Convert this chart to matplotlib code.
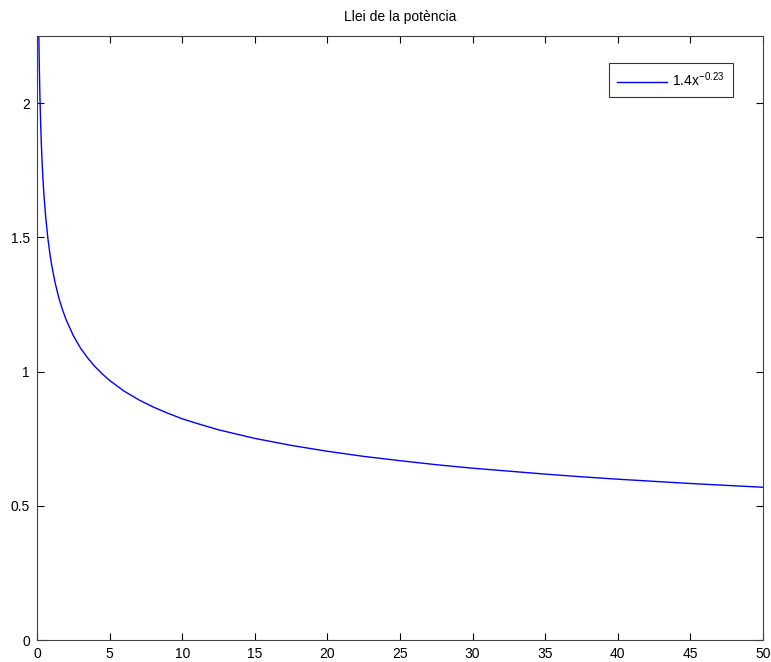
import matplotlib
matplotlib.use("Agg")
import matplotlib.pyplot as plt

# Values
x_vals = [0.1, 0.13, 0.16, 0.2, 0.25, 0.3, 0.35, 0.4, 0.45, 0.5, 0.6, 0.75, 0.9, 1, 1.25, 1.5,
          1.75, 2, 2.5, 3, 3.5, 4, 4.5, 5, 6, 7, 8, 9, 10, 11, 12.5, 15, 17.5, 20, 22.5,
          25, 27.5, 30, 32.5, 35, 37.5, 40, 42.5, 45, 47.5, 50]
y_vals = [2.377, 2.238, 2.134, 2.027, 1.926, 1.847, 1.782, 1.728, 1.682, 1.642, 1.575,
          1.496, 1.434, 1.400, 1.330, 1.275, 1.231, 1.194, 1.134, 1.087, 1.050, 1.018,
          0.991, 0.967, 0.927, 0.895, 0.868, 0.845, 0.824, 0.807, 0.783, 0.751, 0.725,
          0.703, 0.684, 0.668, 0.653, 0.640, 0.629, 0.618, 0.608, 0.599, 0.591, 0.583,
          0.576, 0.569]
x_ticks = [0, 5, 10, 15, 20, 25, 30, 35, 40, 45, 50]
y_ticks = [0, 0.5, 1, 1.5, 2]
y_tick_labels = ["0", "0.5", "1", "1.5", "2"]
title = "Llei de la potència"
legend_label = r"1.4x$^{\mathregular{-0.23}}$"

plt.rcParams['font.family'] = ['Liberation Sans', 'DejaVu Sans']
plt.rcParams['mathtext.default'] = 'regular'

fig = plt.figure(figsize=(7.71, 6.62), dpi=100)
ax = fig.add_axes([37/771, 22/662, (763-37)/771, (640-36)/662])
ax.plot(x_vals, y_vals, color='#0000ff', linewidth=1.0, label=legend_label)
ax.set_xlim(0, 50)
ax.set_ylim(0, 2.25)
ax.set_xticks(x_ticks)
ax.set_yticks(y_ticks)
ax.set_yticklabels(y_tick_labels)
ax.tick_params(direction='in', length=5, width=0.8, top=True, right=True,
               labelsize=10, colors='black', pad=5)
for s in ax.spines.values():
    s.set_color('#404040')
    s.set_linewidth(0.8)
ax.set_title(title, fontsize=10, pad=11)
leg = ax.legend(loc='upper right', bbox_to_anchor=(0.958, 0.955), fontsize=10,
                frameon=True, fancybox=False, edgecolor='black', handlelength=3.6,
                borderpad=0.55, handletextpad=0.4, borderaxespad=0.0)
leg.get_frame().set_linewidth(0.8)
fig.savefig('out.png', dpi=100)
